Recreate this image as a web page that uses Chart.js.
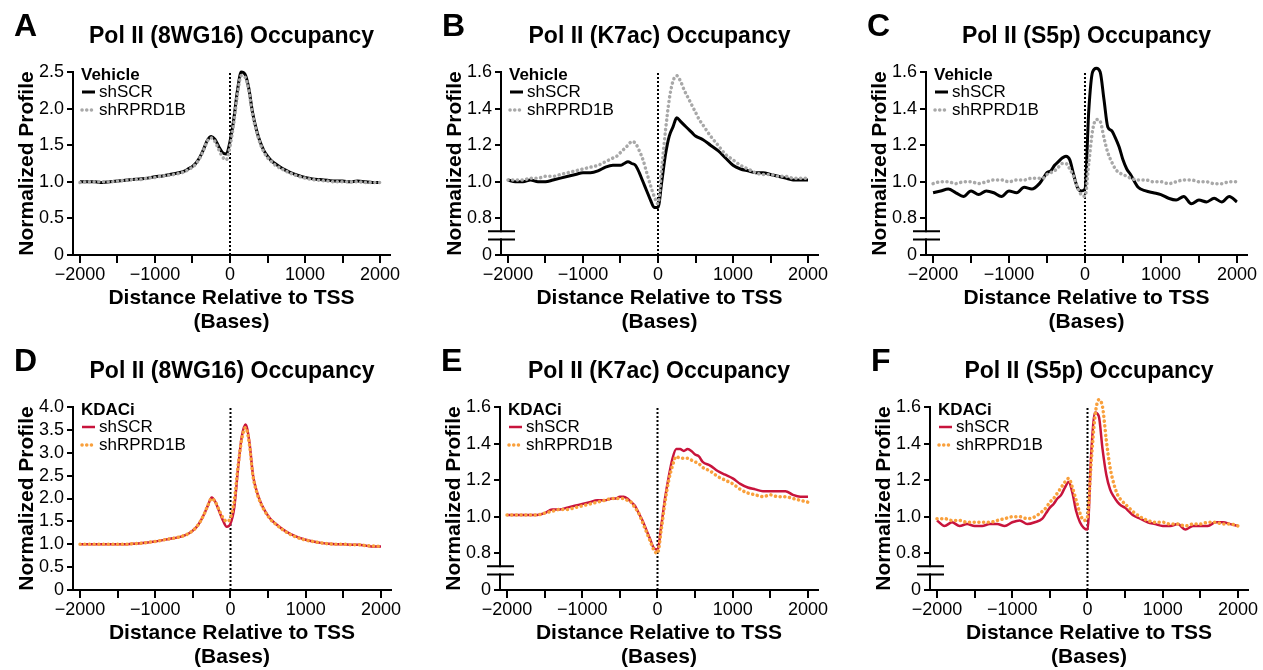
<!DOCTYPE html>
<html>
<head>
<meta charset="utf-8">
<title>Pol II occupancy profiles around the TSS</title>
<script src="https://cdn.jsdelivr.net/npm/chart.js@4.4.0/dist/chart.umd.min.js"></script>
<style>
  html, body { margin: 0; padding: 0; background: #fff; }
  #fig { position: relative; width: 1263px; height: 670px; overflow: hidden; }
  #fig canvas { position: absolute; }
</style>
</head>
<body>
<div id="fig">
  <canvas id="chartA" width="421" height="335" style="left:0px;top:0px"></canvas>
  <canvas id="chartB" width="421" height="335" style="left:421px;top:0px"></canvas>
  <canvas id="chartC" width="421" height="335" style="left:842px;top:0px"></canvas>
  <canvas id="chartD" width="421" height="335" style="left:0px;top:335px"></canvas>
  <canvas id="chartE" width="421" height="335" style="left:421px;top:335px"></canvas>
  <canvas id="chartF" width="421" height="335" style="left:842px;top:335px"></canvas>
</div>
<script>
// Distance to the TSS (bases) of each bin
const distances = [
  -2000, -1900, -1800, -1700, -1600, -1500, -1400, -1300, -1200, -1100, -1000, -900, -800, -700, -600,
  -550, -500, -450, -400, -350, -300, -250, -200, -150, -100, -50, 0, 50, 100, 150, 200, 250, 300, 350, 400, 450, 500, 550,
  600, 700, 800, 900, 1000, 1100, 1200, 1300, 1400, 1500, 1600, 1700, 1800, 1900, 2000
];

// A - 8WG16, vehicle
const aScr = [
  1.00, 1.00, 1.00, 0.99, 1.00, 1.01, 1.02, 1.03, 1.04, 1.05, 1.07, 1.08, 1.10, 1.12, 1.15,
  1.18, 1.21, 1.26, 1.34, 1.45, 1.57, 1.62, 1.58, 1.48, 1.40, 1.38, 1.55, 1.85, 2.25, 2.50, 2.47, 2.28, 1.95, 1.72, 1.55, 1.43, 1.35, 1.29,
  1.25, 1.18, 1.13, 1.09, 1.06, 1.04, 1.03, 1.02, 1.01, 1.01, 1.00, 1.01, 1.00, 0.99, 0.99
];
const aRprd = [
  0.99, 1.00, 1.00, 1.00, 1.00, 1.01, 1.02, 1.03, 1.03, 1.05, 1.06, 1.08, 1.09, 1.11, 1.14,
  1.17, 1.20, 1.25, 1.33, 1.44, 1.56, 1.60, 1.55, 1.44, 1.34, 1.30, 1.48, 1.80, 2.20, 2.45, 2.43, 2.25, 1.92, 1.70, 1.53, 1.41, 1.33, 1.28,
  1.23, 1.17, 1.12, 1.08, 1.05, 1.03, 1.02, 1.01, 1.00, 1.00, 1.00, 1.00, 0.99, 0.99, 0.99
];

// B - K7ac, vehicle
const bScr = [
  1.01, 1.00, 1.00, 1.01, 1.00, 1.00, 1.01, 1.02, 1.03, 1.04, 1.05, 1.05, 1.06, 1.08, 1.09,
  1.09, 1.09, 1.10, 1.11, 1.10, 1.09, 1.05, 1.00, 0.95, 0.90, 0.86, 0.86, 1.00, 1.15, 1.25, 1.30, 1.35, 1.33, 1.31, 1.29, 1.27, 1.25, 1.24,
  1.23, 1.20, 1.17, 1.13, 1.09, 1.07, 1.06, 1.05, 1.05, 1.04, 1.03, 1.02, 1.01, 1.01, 1.01
];
const bRprd = [
  1.01, 1.01, 1.01, 1.02, 1.02, 1.03, 1.03, 1.04, 1.05, 1.06, 1.07, 1.08, 1.09, 1.11, 1.13,
  1.14, 1.16, 1.18, 1.20, 1.22, 1.21, 1.17, 1.12, 1.05, 0.98, 0.92, 0.88, 1.08, 1.28, 1.45, 1.55, 1.58, 1.55, 1.50, 1.46, 1.42, 1.38, 1.34,
  1.31, 1.25, 1.20, 1.15, 1.12, 1.09, 1.07, 1.05, 1.04, 1.04, 1.03, 1.03, 1.02, 1.02, 1.02
];

// C - S5p, vehicle
const cScr = [
  0.94, 0.95, 0.96, 0.94, 0.92, 0.95, 0.93, 0.95, 0.94, 0.92, 0.95, 0.94, 0.97, 0.96, 0.99,
  1.02, 1.05, 1.06, 1.09, 1.11, 1.13, 1.14, 1.12, 1.04, 0.97, 0.95, 0.96, 1.39, 1.60, 1.62, 1.60, 1.45, 1.30, 1.28, 1.24, 1.19, 1.12, 1.07,
  1.04, 0.97, 0.95, 0.94, 0.93, 0.91, 0.90, 0.92, 0.88, 0.90, 0.89, 0.91, 0.89, 0.92, 0.89
];
const cRprd = [
  0.99, 1.00, 1.00, 0.99, 1.00, 1.00, 0.99, 1.00, 1.01, 1.01, 1.00, 1.01, 1.01, 1.02, 1.02,
  1.02, 1.04, 1.05, 1.06, 1.08, 1.10, 1.10, 1.07, 1.03, 0.97, 0.93, 0.92, 1.10, 1.28, 1.34, 1.33, 1.24, 1.16, 1.11, 1.07, 1.05, 1.04, 1.03,
  1.02, 1.01, 1.01, 1.00, 1.00, 0.99, 1.00, 1.01, 1.01, 1.00, 1.00, 0.99, 0.99, 1.00, 1.00
];

// D - 8WG16, KDACi
const dScr = [
  1.00, 1.00, 1.00, 1.00, 1.00, 1.00, 1.00, 1.01, 1.02, 1.04, 1.06, 1.09, 1.12, 1.15, 1.20,
  1.24, 1.30, 1.38, 1.50, 1.66, 1.85, 2.02, 1.92, 1.72, 1.52, 1.38, 1.45, 1.80, 2.65, 3.35, 3.62, 3.25, 2.50, 2.15, 1.92, 1.75, 1.62, 1.52,
  1.45, 1.32, 1.22, 1.15, 1.10, 1.06, 1.03, 1.01, 1.00, 1.00, 0.99, 0.99, 0.97, 0.95, 0.95
];
const dRprd = [
  1.00, 1.00, 1.00, 1.00, 1.00, 1.00, 1.00, 1.01, 1.02, 1.04, 1.06, 1.09, 1.12, 1.15, 1.20,
  1.24, 1.30, 1.38, 1.50, 1.66, 1.85, 2.00, 1.92, 1.74, 1.58, 1.50, 1.58, 1.95, 2.70, 3.30, 3.55, 3.20, 2.48, 2.13, 1.90, 1.74, 1.61, 1.51,
  1.44, 1.31, 1.21, 1.14, 1.09, 1.06, 1.03, 1.01, 1.00, 1.00, 0.99, 0.99, 0.97, 0.96, 0.95
];

// E - K7ac, KDACi
const eScr = [
  1.01, 1.01, 1.01, 1.01, 1.01, 1.02, 1.04, 1.04, 1.05, 1.06, 1.07, 1.08, 1.09, 1.09, 1.10,
  1.10, 1.11, 1.11, 1.10, 1.08, 1.06, 1.02, 0.98, 0.93, 0.88, 0.83, 0.82, 0.95, 1.10, 1.22, 1.32, 1.37, 1.37, 1.36, 1.37, 1.36, 1.34, 1.33,
  1.30, 1.28, 1.25, 1.23, 1.21, 1.18, 1.16, 1.15, 1.14, 1.14, 1.14, 1.14, 1.12, 1.11, 1.11
];
const eRprd = [
  1.01, 1.01, 1.01, 1.01, 1.01, 1.02, 1.03, 1.04, 1.04, 1.05, 1.06, 1.07, 1.08, 1.09, 1.10,
  1.10, 1.10, 1.10, 1.09, 1.08, 1.05, 1.02, 0.97, 0.92, 0.87, 0.82, 0.80, 0.93, 1.08, 1.20, 1.28, 1.33, 1.32, 1.32, 1.32, 1.31, 1.30, 1.29,
  1.27, 1.25, 1.22, 1.20, 1.18, 1.15, 1.13, 1.12, 1.11, 1.12, 1.11, 1.11, 1.10, 1.09, 1.08
];

// F - S5p, KDACi
const fScr = [
  0.98, 0.95, 0.97, 0.95, 0.96, 0.95, 0.95, 0.96, 0.96, 0.95, 0.97, 0.98, 0.96, 0.97, 0.99,
  1.02, 1.05, 1.07, 1.10, 1.12, 1.16, 1.19, 1.13, 1.03, 0.97, 0.94, 0.93, 1.35, 1.57, 1.55, 1.37, 1.23, 1.15, 1.11, 1.08, 1.06, 1.05, 1.03,
  1.01, 0.99, 0.97, 0.96, 0.95, 0.95, 0.96, 0.93, 0.95, 0.95, 0.95, 0.97, 0.97, 0.96, 0.95
];
const fRprd = [
  0.99, 0.99, 0.98, 0.98, 0.97, 0.97, 0.97, 0.97, 0.98, 0.99, 1.00, 1.00, 0.99, 1.00, 1.03,
  1.05, 1.08, 1.10, 1.13, 1.16, 1.19, 1.21, 1.16, 1.09, 1.02, 0.98, 1.00, 1.30, 1.55, 1.64, 1.60, 1.42, 1.27, 1.18, 1.12, 1.09, 1.07, 1.05,
  1.03, 1.00, 0.98, 0.97, 0.97, 0.96, 0.96, 0.95, 0.96, 0.96, 0.97, 0.97, 0.96, 0.96, 0.95
];

const seriesNames = ["shSCR", "shRPRD1B"];

// Axis ticks
const xTicks = [-2000, -1500, -1000, -500, 0, 500, 1000, 1500, 2000];
const xTickLabels = ["\u22122000", "", "\u22121000", "", "0", "", "1000", "", "2000"];
const yTicksA = [0, 0.5, 1.0, 1.5, 2.0, 2.5];
const yTickLabelsA = ["0", "0.5", "1.0", "1.5", "2.0", "2.5"];
const yTicksD = [0, 0.5, 1.0, 1.5, 2.0, 2.5, 3.0, 3.5, 4.0];
const yTickLabelsD = ["0", "0.5", "1.0", "1.5", "2.0", "2.5", "3.0", "3.5", "4.0"];
// broken axis: the lowest tick stands for 0
const yTicksCut = [0.6, 0.8, 1.0, 1.2, 1.4, 1.6];
const yTickLabelsCut = ["0", "0.8", "1.0", "1.2", "1.4", "1.6"];

const FONT = '"Liberation Sans", Arial, Helvetica, sans-serif';
Chart.defaults.font.family = FONT;
Chart.defaults.color = "#000";

function pairs(values) {
  return distances.map((d, i) => ({ x: d, y: values[i] }));
}

// letter, title, in-plot legend and axis break
const panelDecor = {
  id: "panelDecor",
  afterDraw(chart, args, opts) {
    const { ctx, chartArea } = chart;
    const left = chartArea.left;
    ctx.save();
    ctx.fillStyle = "#000";
    ctx.textBaseline = "middle";
    ctx.textAlign = "left";
    ctx.font = "bold 32px " + FONT;
    ctx.fillText(opts.letter, left - 59, 27);
    ctx.textAlign = "center";
    ctx.font = "bold 23px " + FONT;
    ctx.fillText(opts.title, (chartArea.left + chartArea.right) / 2, 37);

    ctx.textAlign = "left";
    ctx.font = "bold 17px " + FONT;
    ctx.fillText(opts.group, left + 8, 75);
    [chart.data.datasets[0], chart.data.datasets[1]].forEach((ds, i) => {
      const ly = 92 + i * 18;
      ctx.beginPath();
      ctx.strokeStyle = ds.borderColor;
      ctx.lineWidth = ds.borderWidth;
      ctx.lineCap = ds.borderCapStyle || "butt";
      ctx.setLineDash(ds.borderDash || []);
      ctx.moveTo(left + 9, ly);
      ctx.lineTo(left + 22, ly);
      ctx.stroke();
      ctx.setLineDash([]);
      ctx.fillStyle = "#000";
      ctx.font = "17px " + FONT;
      ctx.fillText(ds.label, left + 26, ly);
    });

    if (opts.cut) {
      const y = chart.scales.y;
      const p1 = y.getPixelForValue(opts.cut[0]);
      const p2 = y.getPixelForValue(opts.cut[1]);
      ctx.fillStyle = "#fff";
      ctx.fillRect(left - 2, p2 + 1, 4, p1 - p2 - 2);
      ctx.strokeStyle = "#000";
      ctx.lineCap = "butt";
      ctx.lineWidth = 2;
      ctx.beginPath();
      [p1, p2].forEach((p) => {
        ctx.moveTo(left - 13, p);
        ctx.lineTo(left + 14, p);
      });
      ctx.stroke();
    }
    ctx.restore();
  },
};

function makePanel(p) {
  const ctx = document.getElementById(p.id).getContext("2d");
  const yMin = p.yTicks[0];
  const yMax = p.yTicks[p.yTicks.length - 1];
  return new Chart(ctx, {
    type: "line",
    data: {
      datasets: [
        {
          label: seriesNames[0],
          data: pairs(p.first),
          borderColor: p.colors[0],
          borderWidth: p.solidWidth,
          pointRadius: 0,
          cubicInterpolationMode: "monotone",
          clip: false,
          order: 1,
        },
        {
          label: seriesNames[1],
          data: pairs(p.second),
          borderColor: p.colors[1],
          borderWidth: 3.5,
          borderDash: [0.1, 4.6],
          borderCapStyle: "round",
          pointRadius: 0,
          cubicInterpolationMode: "monotone",
          clip: false,
          order: 0,
        },
        {
          label: "TSS",
          data: [{ x: 0, y: yMin }, { x: 0, y: yMax }],
          borderColor: "#000",
          borderWidth: 2,
          borderDash: [2, 2],
          pointRadius: 0,
          clip: false,
          order: 2,
        },
      ],
    },
    options: {
      responsive: false,
      animation: false,
      layout: { padding: { top: 72, bottom: 0, left: p.padL, right: p.padR } },
      plugins: {
        legend: { display: false },
        tooltip: { enabled: false },
        panelDecor: { letter: p.letter, title: p.title, group: p.group, cut: p.cut },
      },
      scales: {
        x: {
          type: "linear",
          min: -2093,
          max: 2133,
          afterBuildTicks: (s) => {
            s.ticks = xTicks.map((v) => ({ value: v }));
          },
          afterFit: (s) => {
            s.height = 80;
          },
          grid: { drawOnChartArea: false, tickLength: 8, color: "#000", lineWidth: 2 },
          border: { display: true, color: "#000", width: 2 },
          ticks: {
            autoSkip: false,
            maxRotation: 0,
            padding: 1,
            font: { size: 18 },
            callback: (v, i) => xTickLabels[i],
          },
          title: {
            display: true,
            text: ["Distance Relative to TSS", "(Bases)"],
            font: { size: 21, weight: "bold", lineHeight: 1.15 },
            padding: { top: 0, bottom: 1 },
          },
        },
        y: {
          type: "linear",
          min: yMin,
          max: yMax,
          afterBuildTicks: (s) => {
            s.ticks = p.yTicks.map((v) => ({ value: v }));
          },
          afterFit: (s) => {
            s.width = 58;
          },
          grid: { drawOnChartArea: false, tickLength: 6, color: "#000", lineWidth: 2 },
          border: { display: true, color: "#000", width: 2 },
          ticks: {
            autoSkip: false,
            padding: 3,
            font: { size: 18 },
            callback: (v, i) => p.yLabels[i],
          },
          title: {
            display: true,
            text: "Normalized Profile",
            font: { size: 21, weight: "bold" },
            padding: 0,
          },
        },
      },
    },
    plugins: [panelDecor],
  });
}

const vehicleColors = ["#000000", "#a8a8a8"];
const kdaciColors = ["#c8143c", "#f9a03c"];

const panels = [
  { id: "chartA", letter: "A", title: "Pol II (8WG16) Occupancy", group: "Vehicle", first: aScr, second: aRprd,
    colors: vehicleColors, solidWidth: 3, yTicks: yTicksA, yLabels: yTickLabelsA, cut: null, padL: 15, padR: 31 },
  { id: "chartB", letter: "B", title: "Pol II (K7ac) Occupancy", group: "Vehicle", first: bScr, second: bRprd,
    colors: vehicleColors, solidWidth: 3, yTicks: yTicksCut, yLabels: yTickLabelsCut, cut: [0.685, 0.73], padL: 22, padR: 24 },
  { id: "chartC", letter: "C", title: "Pol II (S5p) Occupancy", group: "Vehicle", first: cScr, second: cRprd,
    colors: vehicleColors, solidWidth: 3, yTicks: yTicksCut, yLabels: yTickLabelsCut, cut: [0.685, 0.73], padL: 26, padR: 16 },
  { id: "chartD", letter: "D", title: "Pol II (8WG16) Occupancy", group: "KDACi", first: dScr, second: dRprd,
    colors: kdaciColors, solidWidth: 2.5, yTicks: yTicksD, yLabels: yTickLabelsD, cut: null, padL: 15, padR: 30 },
  { id: "chartE", letter: "E", title: "Pol II (K7ac) Occupancy", group: "KDACi", first: eScr, second: eRprd,
    colors: kdaciColors, solidWidth: 2.5, yTicks: yTicksCut, yLabels: yTickLabelsCut, cut: [0.685, 0.73], padL: 21, padR: 24 },
  { id: "chartF", letter: "F", title: "Pol II (S5p) Occupancy", group: "KDACi", first: fScr, second: fRprd,
    colors: kdaciColors, solidWidth: 2.5, yTicks: yTicksCut, yLabels: yTickLabelsCut, cut: [0.685, 0.73], padL: 30, padR: 15 },
];

panels.forEach(makePanel);
</script>
</body>
</html>
